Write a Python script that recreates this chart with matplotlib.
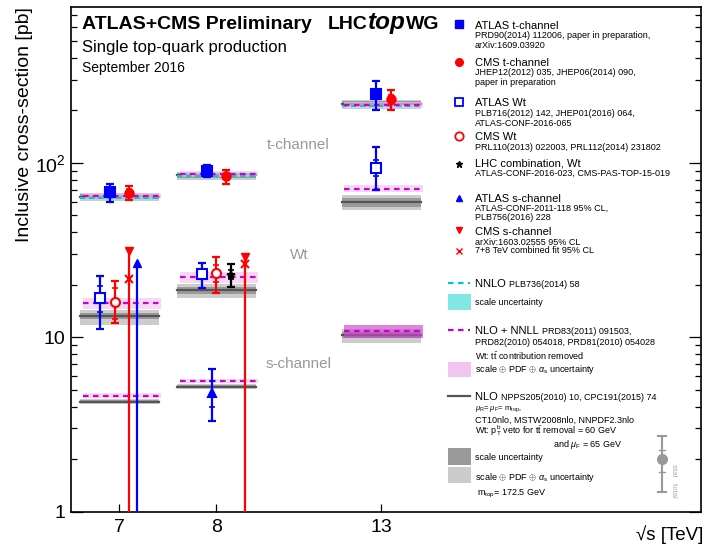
import matplotlib
matplotlib.use("Agg")
import matplotlib.pyplot as plt
from matplotlib.lines import Line2D
from matplotlib.patches import Rectangle
from matplotlib.ticker import FixedLocator, FixedFormatter, LogLocator, NullFormatter, NullLocator

plt.rcParams['font.family'] = ['Liberation Sans', 'DejaVu Sans']
plt.rcParams['mathtext.fontset'] = 'custom'
plt.rcParams['mathtext.rm'] = 'Liberation Sans'
plt.rcParams['mathtext.it'] = 'Liberation Sans:italic'
plt.rcParams['mathtext.bf'] = 'Liberation Sans:bold'
plt.rcParams['mathtext.sf'] = 'Liberation Sans'

# ---------------- data ----------------
energies = ['7', '8', '13']

# measurements (pb)
atlas_t = [68.0, 89.6, 247.0]
atlas_t_up = [8.0, 7.1, 46.0]
atlas_t_dn = [8.0, 6.3, 46.0]
atlas_t_stat = [2.0, 1.7, 6.0]

cms_t = [67.2, 83.6, 232.0]
cms_t_err = [6.1, 7.7, 31.0]
cms_t_stat = [3.7, 2.3, 13.0]

atlas_wt = [16.8, 23.0, 94.0]
atlas_wt_up = [5.7, 3.6, 30.0]
atlas_wt_dn = [5.7, 3.9, 24.0]
atlas_wt_stat = [2.9, 1.3, 10.0]

cms_wt = [16.0, 23.4]           # 7, 8 TeV
cms_wt_up = [5.0, 5.4]
cms_wt_dn = [4.0, 5.4]
cms_wt_stat = [3.2, 2.6]

lhc_wt = [22.9]                 # 8 TeV
lhc_wt_up = [3.3]
lhc_wt_dn = [3.6]
lhc_wt_stat = [1.4]

atlas_s = [4.8]                 # 8 TeV
atlas_s_up = [1.8]
atlas_s_dn = [1.5]
atlas_s_stat = [0.8]

atlas_s_limit = [26.5]          # 7 TeV, 95% CL
cms_s_limit = [31.4, 28.8]      # 7, 8 TeV, 95% CL
cms_s_comb = [21.6, 26.2]       # 7+8 TeV combined fit 95% CL

# theory
nlo_t = [63.9, 84.7, 216.9]
nlo_t_scale = [(61.8, 65.9), (82.0, 87.6), (209.0, 225.0)]
nlo_t_tot = [(60.3, 66.8), (80.2, 88.9), (205.0, 228.0)]
nnlo_t = [63.0, 84.0, 212.0]
nnlo_t_scale = [(62.3, 64.0), (83.1, 85.1), (209.0, 215.0)]
nnll_t = [65.0, 86.5, 215.0]
nnll_t_unc = [(63.0, 67.3), (83.8, 89.3), (207.0, 224.0)]

nlo_wt = [13.25, 18.6, 59.6]
nlo_wt_scale = [(12.8, 13.7), (17.7, 19.5), (56.0, 62.8)]
nlo_wt_tot = [(11.7, 14.4), (16.7, 20.3), (53.5, 65.4)]
nnll_wt = [15.7, 22.2, 70.7]
nnll_wt_unc = [(14.6, 16.7), (20.6, 23.7), (67.7, 74.4)]

nlo_s = [4.27, 5.22, 10.3]
nlo_s_scale = [(4.19, 4.36), (5.12, 5.33), (9.85, 10.75)]
nlo_s_tot = [(4.12, 4.45), (5.02, 5.42), (9.25, 11.1)]
nnll_s = [4.61, 5.61, 10.9]
nnll_s_unc = [(4.49, 4.77), (5.44, 5.79), (9.85, 11.7)]

# ---------------- layout ----------------
W, H = 711, 556
def fx(x): return x / W
def fy(y): return 1 - y / H

xpos = [1.0, 2.0, 3.7]
off_atlas_t = [-0.10, -0.10, -0.05]
off_cms_t = [0.10, 0.10, 0.10]
off_atlas_wt = [-0.20, -0.15, -0.05]
off_cms_wt = [-0.05, 0.0]
off_lhc_wt = [0.15]
off_cms_lim = [0.095, 0.30]
off_atlas_lim = [0.18]
off_atlas_s = [-0.045]

BLUE, RED = '#0000ff', '#ff0000'
LGREY, DGREY, GLINE = '#cccccc', '#9a9a9a', '#555555'
PINK, MAG = '#f2c4f0', '#cc00cc'
CYANB, CYAN = '#80e6e6', '#00c8c8'

fig = plt.figure(figsize=(7.11, 5.56), dpi=100)
ax = fig.add_axes([fx(71), fy(511.7), (700.7 - 71) / W, (511.7 - 7) / H])
ax.set_yscale('log')
ax.set_ylim(1, 783)
ax.set_xlim(0.5, 7.0)

GX = (-0.405, 0.41)
PX = (-0.38, 0.43)
CX = (-0.405, 0.39)

def hband(xc, lohi, xr, color, z, alpha=1.0):
    ax.fill_between([xc + xr[0], xc + xr[1]], lohi[0], lohi[1], color=color,
                    lw=0, zorder=z, alpha=alpha)

def hline(xc, v, xr, **kw):
    ax.plot([xc + xr[0], xc + xr[1]], [v, v], **kw)

def theory(central, scale, tot, nnll, nnll_unc, nnlo=None, nnlo_sc=None, pink_colors=None):
    for i, xc in enumerate(xpos):
        hband(xc, tot[i], GX, LGREY, 1)
        hband(xc, scale[i], GX, DGREY, 1.1)
        hline(xc, central[i], GX, color=GLINE, lw=1.6, zorder=1.2)
        if nnlo is not None:
            hband(xc, nnlo_sc[i], CX, CYANB, 1.3, alpha=0.8)
            hline(xc, nnlo[i], CX, color=CYAN, lw=1.3, ls=(0, (3, 2)), zorder=1.6)
        pc = PINK if pink_colors is None else pink_colors[i]
        hband(xc, nnll_unc[i], PX, pc, 1.4, alpha=0.65)
        hline(xc, nnll[i], PX, color=MAG, lw=1.6, ls=(0, (2.5, 2)), zorder=1.7)

theory(nlo_t, nlo_t_scale, nlo_t_tot, nnll_t, nnll_t_unc, nnlo_t, nnlo_t_scale)
theory(nlo_wt, nlo_wt_scale, nlo_wt_tot, nnll_wt, nnll_wt_unc)
theory(nlo_s, nlo_s_scale, nlo_s_tot, nnll_s, nnll_s_unc,
       pink_colors=[PINK, PINK, '#cc44cc'])

def meas(x, y, up, dn, sup, sdn, color, marker, mfc, ms=6):
    ax.errorbar([x], [y], yerr=[[dn], [up]], fmt='none', ecolor=color,
                elinewidth=1.6, capsize=2.8, capthick=1.6, zorder=5)
    if sup is not None:
        ax.plot([x, x], [y - sdn, y + sup], ls='none', marker='_', ms=5,
                mew=1.2, color=color, zorder=5)
    ax.plot([x], [y], marker=marker, color=color, mfc=mfc, mec=color,
            ms=ms, mew=1.5, ls='none', zorder=6)

for i in range(3):
    meas(xpos[i] + off_atlas_t[i], atlas_t[i], atlas_t_up[i], atlas_t_dn[i],
         atlas_t_stat[i], atlas_t_stat[i], BLUE, 's', BLUE, 6.5)
    meas(xpos[i] + off_cms_t[i], cms_t[i], cms_t_err[i], cms_t_err[i],
         cms_t_stat[i], cms_t_stat[i], RED, 'o', RED, 6)
    meas(xpos[i] + off_atlas_wt[i], atlas_wt[i], atlas_wt_up[i], atlas_wt_dn[i],
         atlas_wt_stat[i], atlas_wt_stat[i], BLUE, 's', 'white', 6.5)
for i in range(2):
    meas(xpos[i] + off_cms_wt[i], cms_wt[i], cms_wt_up[i], cms_wt_dn[i],
         cms_wt_stat[i], cms_wt_stat[i], RED, 'o', 'white', 6.5)
meas(xpos[1] + off_lhc_wt[0], lhc_wt[0], lhc_wt_up[0], lhc_wt_dn[0],
     lhc_wt_stat[0], lhc_wt_stat[0], 'black', '*', 'black', 6)
meas(xpos[1] + off_atlas_s[0], atlas_s[0], atlas_s_up[0], atlas_s_dn[0],
     atlas_s_stat[0], atlas_s_stat[0], BLUE, '^', BLUE, 5.5)

# limits
for i in range(2):
    x = xpos[i] + off_cms_lim[i]
    ax.plot([x, x], [1, cms_s_limit[i]], color=RED, lw=1.6, zorder=4)
    ax.plot([x], [cms_s_limit[i]], marker='v', color=RED, ms=6, zorder=6)
    ax.plot([x], [cms_s_comb[i]], marker='x', color=RED, ms=6, mew=1.5, zorder=6)
x = xpos[0] + off_atlas_lim[0]
ax.plot([x, x], [1, atlas_s_limit[0]], color=BLUE, lw=1.6, zorder=4)
ax.plot([x], [atlas_s_limit[0]], marker='^', color=BLUE, ms=6, zorder=6)

# axes styling
ax.set_xticks(xpos)
ax.set_xticklabels(energies)
ax.xaxis.set_minor_locator(NullLocator())
ax.tick_params(axis='x', which='major', direction='in', length=5.5, width=0.9,
               top=False, labelsize=14, pad=5)
ax.yaxis.set_major_locator(FixedLocator([1, 10, 100]))
ax.yaxis.set_major_formatter(FixedFormatter(['1', '10', r'$10^{2}$']))
ax.yaxis.set_minor_locator(LogLocator(base=10, subs=range(2, 10)))
ax.yaxis.set_minor_formatter(NullFormatter())
ax.tick_params(axis='y', which='major', direction='in', length=8.8, width=0.9,
               right=True, labelsize=14, pad=4)
ax.tick_params(axis='y', which='minor', direction='in', length=4.5, width=0.9,
               right=True)
for s in ax.spines.values():
    s.set_linewidth(1.2)

# channel labels
for txt, (px, py) in [('t-channel', (298, 145)), ('Wt', (299, 255)), ('s-channel', (299, 364))]:
    fig.text(fx(px), fy(py), txt, color='#999999', fontsize=11, ha='center', va='center')

# axis titles
fig.text(fx(25), fy(7), 'Inclusive cross-section [pb]', rotation=90, ha='center',
         va='top', fontsize=14)
fig.text(fx(703), fy(535), '\u221As [TeV]', ha='right', va='center', fontsize=13.5)

renderer = fig.canvas.get_renderer()

def chain(x, y, parts):
    for s, kw in parts:
        t = fig.text(fx(x), fy(y), s, ha='left', va='baseline', **kw)
        bb = t.get_window_extent(renderer)
        x = bb.x1
    return x

# header
fig.text(fx(82), fy(29), 'ATLAS+CMS Preliminary', fontsize=14, fontweight='bold',
         ha='left', va='baseline')
chain(328, 29, [('LHC', dict(fontsize=14, fontweight='bold')),
                ('top', dict(fontsize=17.5, fontweight='bold', fontstyle='italic')),
                ('WG', dict(fontsize=14, fontweight='bold'))])
fig.text(fx(82), fy(52), 'Single top-quark production', fontsize=12, ha='left', va='baseline')
fig.text(fx(82), fy(72), 'September 2016', fontsize=10, ha='left', va='baseline')

# legend: measurements
MX, TX = 459, 475
BIG, SMALL = 8, 6.5

def fig_marker(x, y, **kw):
    fig.add_artist(Line2D([fx(x)], [fy(y)], transform=fig.transFigure, ls='none', **kw))

def fig_hline(x0, x1, y, **kw):
    fig.add_artist(Line2D([fx(x0), fx(x1)], [fy(y), fy(y)], transform=fig.transFigure, **kw))

def fig_box(x0, x1, y0, y1, color):
    fig.add_artist(Rectangle((fx(x0), fy(y1)), (x1 - x0) / W, (y1 - y0) / H,
                             transform=fig.transFigure, color=color, lw=0))

def ltext(y, s, size=SMALL, x=TX):
    fig.text(fx(x), fy(y), s, fontsize=size, ha='left', va='baseline')

fig_marker(MX, 24, marker='s', color=BLUE, ms=6)
ltext(29, 'ATLAS t-channel', BIG)
ltext(38.5, 'PRD90(2014) 112006, paper in preparation,')
ltext(48.5, 'arXiv:1609.03920')

fig_marker(MX, 61.7, marker='o', color=RED, ms=5.5)
ltext(65.7, 'CMS t-channel', BIG)
ltext(75.5, 'JHEP12(2012) 035, JHEP06(2014) 090,')
ltext(85, 'paper in preparation')

fig_marker(MX, 101.7, marker='s', color=BLUE, mfc='white', ms=6, mew=1.3)
ltext(105.5, 'ATLAS Wt', BIG)
ltext(115.5, 'PLB716(2012) 142, JHEP01(2016) 064,')
ltext(126, 'ATLAS-CONF-2016-065')

fig_marker(MX, 136, marker='o', color=RED, mfc='white', ms=6, mew=1.3)
ltext(139.5, 'CMS Wt', BIG)
ltext(150, 'PRL110(2013) 022003, PRL112(2014) 231802')

fig_marker(MX, 164, marker='*', color='black', ms=5)
ltext(167, 'LHC combination, Wt', BIG)
ltext(176, 'ATLAS-CONF-2016-023, CMS-PAS-TOP-15-019')

fig_marker(MX, 197.5, marker='^', color=BLUE, ms=5)
ltext(202, 'ATLAS s-channel', BIG)
ltext(210.5, 'ATLAS-CONF-2011-118 95% CL,')
ltext(220, 'PLB756(2016) 228')

fig_marker(MX, 230, marker='v', color=RED, ms=5)
ltext(235, 'CMS s-channel', BIG)
ltext(245, 'arXiv:1603.02555 95% CL')
fig_marker(MX, 250.5, marker='x', color=RED, ms=4, mew=1)
ltext(253.5, '7+8 TeV combined fit 95% CL')

# legend: theory
fig_hline(448, 470, 283.3, color=CYAN, lw=1.6, ls=(0, (2.5, 2)))
chain(TX, 287, [('NNLO ', dict(fontsize=BIG)), ('PLB736(2014) 58', dict(fontsize=SMALL))])
fig_box(448, 471, 294, 310, CYANB)
ltext(305, 'scale uncertainty')

fig_hline(448, 470, 330, color=MAG, lw=1.6, ls=(0, (2.5, 2)))
chain(TX, 333.5, [('NLO + NNLL ', dict(fontsize=BIG)), ('PRD83(2011) 091503,', dict(fontsize=SMALL))])
ltext(345, 'PRD82(2010) 054018, PRD81(2010) 054028')
ltext(359.5, r'Wt: $\mathrm{t\bar{t}}$ contribution removed')
fig_box(448, 471, 361.5, 377, PINK)
ltext(372, r'scale $\oplus$ PDF $\oplus$ $\alpha_{\mathrm{s}}$ uncertainty')

fig_hline(448, 470, 396, color=GLINE, lw=1.6)
chain(TX, 399.5, [('NLO ', dict(fontsize=BIG)), ('NPPS205(2010) 10, CPC191(2015) 74', dict(fontsize=SMALL))])
ltext(410, r'$\mu_{\mathrm{R}}$= $\mu_{\mathrm{F}}$= $\mathrm{m}_{\mathrm{top}}$,', 5.5)
ltext(422.7, 'CT10nlo, MSTW2008nlo, NNPDF2.3nlo')
ltext(434, r'Wt: $\mathrm{p}_{\mathrm{T}}^{\mathrm{b}}$ veto for $\mathrm{t\bar{t}}$ removal = 60 GeV')
ltext(446.7, r'and $\mu_{\mathrm{F}}$ = 65 GeV', SMALL, x=553)
fig_box(448, 471, 448, 464.5, DGREY)
ltext(460, 'scale uncertainty')
fig_box(448, 471, 467, 483, LGREY)
ltext(480.5, r'scale $\oplus$ PDF $\oplus$ $\alpha_{\mathrm{s}}$ uncertainty')
ltext(495, r'$\mathrm{m}_{\mathrm{top}}$= 172.5 GeV', SMALL, x=477)

# stat / total key
SG = '#999999'
fig_hline(662, 662, 436, color=SG, lw=1.5)
fig.add_artist(Line2D([fx(662), fx(662)], [fy(436), fy(492)], transform=fig.transFigure,
                      color=SG, lw=1.5))
for yy in (436, 492):
    fig_hline(658, 666, yy, color=SG, lw=1.5)
for yy in (450, 472):
    fig_hline(659, 665, yy, color=SG, lw=1.0)
fig_marker(662, 459, marker='o', color=SG, ms=7)
fig.text(fx(674), fy(464), 'stat   total', rotation=-90, ha='center', va='top',
         fontsize=5.5, color='#aaaaaa')

fig.savefig('out.png', dpi=100)
